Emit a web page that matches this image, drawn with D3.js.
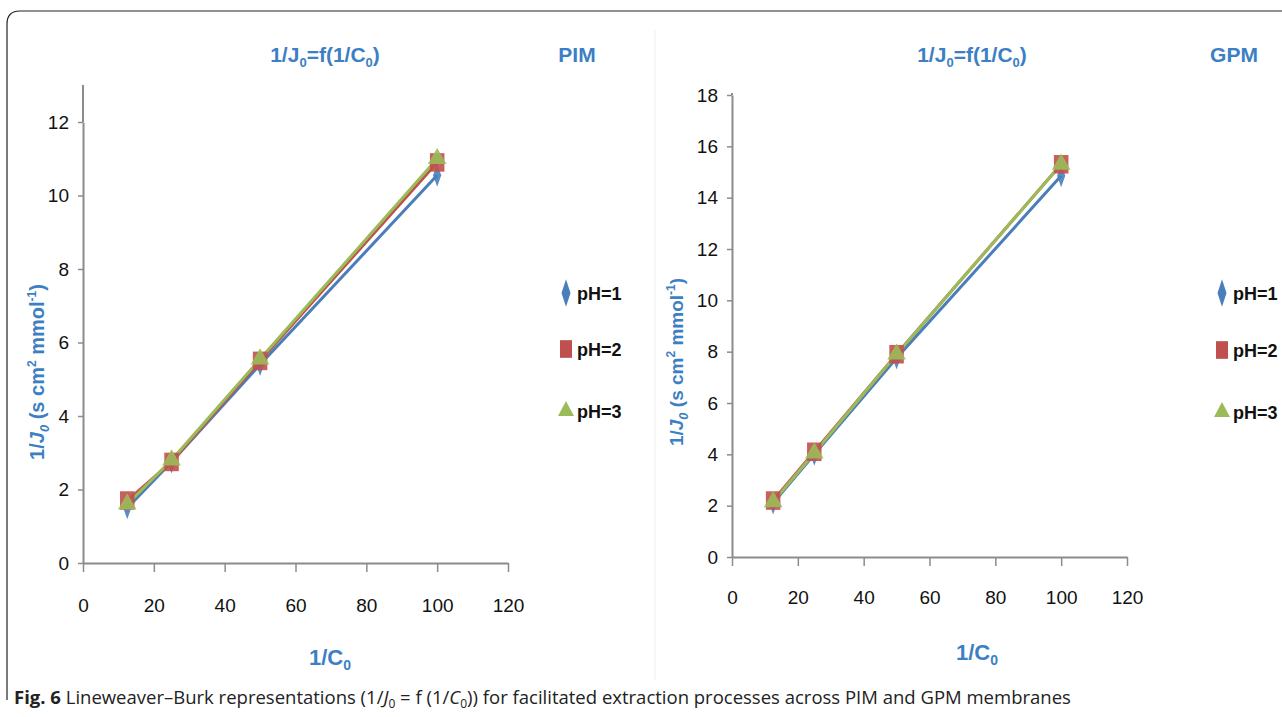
<!DOCTYPE html>
<html>
<head>
<meta charset="utf-8">
<script src="https://cdn.jsdelivr.net/npm/d3@7"></script>
<style>
  html, body { margin: 0; padding: 0; background: #fff; }
  svg { display: block; }
</style>
</head>
<body>
<svg id="chart" width="1282" height="717"></svg>
<script>
// ---- Data ----
const xValues = [12.5, 25, 50, 100];
const seriesNames = ["pH=1", "pH=2", "pH=3"];
const seriesColors = ["#4a7ebb", "#c0504d", "#9bbb59"];
const pimPH1 = [1.5, 2.75, 5.4, 10.55];
const pimPH2 = [1.7, 2.75, 5.5, 10.9];
const pimPH3 = [1.6, 2.8, 5.55, 11.0];
const gpmPH1 = [2.1, 4.0, 7.75, 14.85];
const gpmPH2 = [2.2, 4.1, 7.9, 15.3];
const gpmPH3 = [2.15, 4.05, 7.9, 15.3];
const xTicks = [0, 20, 40, 60, 80, 100, 120];
const pimYTicks = [0, 2, 4, 6, 8, 10, 12];
const gpmYTicks = [0, 2, 4, 6, 8, 10, 12, 14, 16, 18];

const svg = d3.select("#chart");
const FONT = "'Liberation Sans', Arial, sans-serif";
const BLUE = "#3c7fc4";

// outer frame
svg.append("path")
  .attr("d", "M 1290 11 L 20 11 Q 7 11 7 24 L 7 700")
  .attr("fill", "none").attr("stroke", "#222").attr("stroke-width", 1.2);
// faint divider
svg.append("line").attr("x1", 655).attr("x2", 655).attr("y1", 30).attr("y2", 680)
  .attr("stroke", "#eee").attr("stroke-width", 1);

function panel(cfg) {
  const g = svg.append("g");
  const x = d3.scaleLinear().domain([0, 120]).range([cfg.x0, cfg.x1]);
  const y = d3.scaleLinear().domain([0, cfg.ymax]).range([cfg.y0, cfg.y1]);

  const xa = g.append("g").attr("transform", `translate(0,${cfg.y0})`)
    .call(d3.axisBottom(x).tickValues(xTicks).tickSize(9).tickSizeOuter(0).tickPadding(cfg.xPad));
  const ya = g.append("g").attr("transform", `translate(${cfg.x0},0)`)
    .call(d3.axisLeft(y).tickValues(cfg.yTicks).tickSize(5).tickSizeOuter(0).tickPadding(9));
  [xa, ya].forEach(a => {
    a.select(".domain").attr("stroke", "#8c8c8c").attr("stroke-width", 2);
    a.selectAll(".tick line").attr("stroke", "#8c8c8c").attr("stroke-width", 1.5);
    a.selectAll(".tick text").attr("fill", "#111").attr("font-family", FONT)
      .attr("font-size", 19);
  });
  // extend y axis to top
  g.append("line").attr("x1", cfg.x0).attr("x2", cfg.x0).attr("y1", y(cfg.ymax)).attr("y2", cfg.yTop)
    .attr("stroke", "#8c8c8c").attr("stroke-width", 2);

  const line = d3.line().x((d, i) => x(xValues[i])).y(d => y(d));
  cfg.series.forEach((s, k) => {
    g.append("path").datum(s).attr("d", line).attr("fill", "none")
      .attr("stroke", seriesColors[k]).attr("stroke-width", 3);
  });
  const sym = [d3.symbolDiamond, d3.symbolSquare, d3.symbolTriangle];
  const sizes = [90, 260, 150];
  cfg.series.forEach((s, k) => {
    g.selectAll(null).data(s).enter().append("path")
      .attr("d", d3.symbol().type(sym[k]).size(sizes[k]))
      .attr("transform", (d, i) => `translate(${x(xValues[i])},${y(d)}) scale(${k===0?0.8:k===1?0.9:1},${k===0?1.3:k===1?1.15:1})`)
      .attr("fill", seriesColors[k]).attr("opacity", 0.9);
  });

  // title
  const t = g.append("text").attr("x", cfg.titleX).attr("y", 62).attr("text-anchor", "middle")
    .attr("font-family", FONT).attr("font-size", 21).attr("font-weight", "bold").attr("fill", BLUE);
  t.append("tspan").text("1/J");
  t.append("tspan").text("0").attr("font-size", 13).attr("dy", 5);
  t.append("tspan").text("=f(1/C").attr("dy", -5);
  t.append("tspan").text("0").attr("font-size", 13).attr("dy", 5);
  t.append("tspan").text(")").attr("dy", -5);
  g.append("text").attr("x", cfg.tagX).attr("y", 62).attr("text-anchor", "middle")
    .attr("font-family", FONT).attr("font-size", 21).attr("font-weight", "bold").attr("fill", BLUE)
    .text(cfg.tag);

  // y label
  const yl = g.append("text").attr("transform", `translate(${cfg.ylX},${cfg.ylY}) rotate(-90)`)
    .attr("text-anchor", "middle").attr("font-family", FONT).attr("font-size", cfg.ylSize)
    .attr("font-weight", "bold").attr("fill", BLUE);
  yl.append("tspan").text("1/");
  yl.append("tspan").text("J").attr("font-style", "italic");
  yl.append("tspan").text("0").attr("font-style", "italic").attr("font-size", 13).attr("dy", 5);
  yl.append("tspan").text(" (s cm").attr("dy", -5);
  yl.append("tspan").text("2").attr("font-size", 12).attr("dy", -8);
  yl.append("tspan").text(" mmol").attr("dy", 8);
  yl.append("tspan").text("-1").attr("font-size", 12).attr("dy", -8);
  yl.append("tspan").text(")").attr("dy", 8);

  // x label
  const xl = g.append("text").attr("x", cfg.xlX).attr("y", cfg.xlY).attr("text-anchor", "middle")
    .attr("font-family", FONT).attr("font-size", 22).attr("font-weight", "bold").attr("fill", BLUE);
  xl.append("tspan").text("1/C");
  xl.append("tspan").text("0").attr("font-size", 14).attr("dy", 5);

  // legend
  seriesNames.forEach((n, k) => {
    const ly = cfg.legY[k];
    g.append("path").attr("d", d3.symbol().type(sym[k]).size(k===1?200:110))
      .attr("transform", `translate(${cfg.legX},${ly}) scale(${k===0?0.8:k===1?0.85:1},${k===0?1.4:k===1?1.25:1.1})`)
      .attr("fill", seriesColors[k]);
    g.append("text").attr("x", cfg.legX + 11).attr("y", ly + 7)
      .attr("font-family", FONT).attr("font-size", 18).attr("font-weight", "bold").attr("fill", "#111")
      .text(n);
  });
}

panel({
  x0: 83, x1: 508, y0: 563, y1: 122, ymax: 12, yTop: 85, yTicks: pimYTicks, xPad: 27,
  series: [pimPH1, pimPH2, pimPH3], titleX: 325, tag: "PIM", tagX: 577,
  ylX: 44, ylY: 372, ylSize: 20, xlX: 330, xlY: 665, legX: 566, legY: [293, 349, 411]
});
panel({
  x0: 732, x1: 1127, y0: 557, y1: 95, ymax: 18, yTop: 93, yTicks: gpmYTicks, xPad: 25,
  series: [gpmPH1, gpmPH2, gpmPH3], titleX: 972, tag: "GPM", tagX: 1234,
  ylX: 683, ylY: 362, ylSize: 19, xlX: 977, xlY: 660, legX: 1222, legY: [293, 350, 412]
});

// caption
const cap = svg.append("text").attr("x", 14).attr("y", 704)
  .attr("font-family", "'Open Sans', 'Noto Sans', sans-serif").attr("font-size", 18.5).attr("fill", "#222");
cap.append("tspan").text("Fig. 6").attr("font-weight", "bold");
cap.append("tspan").text("  Lineweaver–Burk representations (1/");
cap.append("tspan").text("J").attr("font-style", "italic");
cap.append("tspan").text("0").attr("font-size", 12).attr("dy", 4);
cap.append("tspan").text(" = f (1/").attr("dy", -4);
cap.append("tspan").text("C").attr("font-style", "italic");
cap.append("tspan").text("0").attr("font-size", 12).attr("dy", 4);
cap.append("tspan").text(")) for facilitated extraction processes across PIM and GPM membranes").attr("dy", -4);
</script>
</body>
</html>
